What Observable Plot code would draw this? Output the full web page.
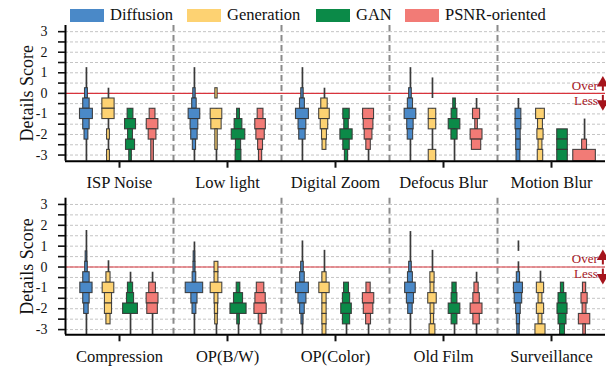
<!DOCTYPE html>
<html><head><meta charset="utf-8">
<script src="https://cdn.jsdelivr.net/npm/d3@7"></script>
<script src="https://cdn.jsdelivr.net/npm/@observablehq/plot@0.6"></script>
<style>
body{margin:0;background:#fff;}
#wrap{position:relative;width:606px;height:371px;overflow:hidden;background:#fff;}
.lg{position:absolute;top:8px;height:14px;display:flex;align-items:center;color:#111;white-space:nowrap;}
.sw{width:34px;height:13px;margin-right:6px;flex:none;}
#top{position:absolute;left:0;top:25px;}
#bot{position:absolute;left:0;top:195px;}
</style></head><body>
<div id="wrap"><div id="legend"></div><div id="top"></div><div id="bot"></div></div>
<script>
const methods = ["Diffusion", "Generation", "GAN", "PSNR-oriented"];
const methodColors = ["#4a89c8", "#fdd272", "#0b8a48", "#f27b76"];
const categoriesTop = ["ISP Noise", "Low light", "Digital Zoom", "Defocus Blur", "Motion Blur"];
const categoriesBottom = ["Compression", "OP(B/W)", "OP(Color)", "Old Film", "Surveillance"];
const yTickValues = [-3, -2.5, -2, -1.5, -1, -0.5, 0, 0.5, 1, 1.5, 2, 2.5, 3];

// letter-value boxes: [category, method, low, high, relative width (share)]
const boxesTop = [
  ["ISP Noise","Diffusion",-0.25,0.25,0.22],["ISP Noise","Diffusion",-0.75,-0.25,0.5],["ISP Noise","Diffusion",-1.25,-0.75,1.0],["ISP Noise","Diffusion",-1.75,-1.25,0.5],["ISP Noise","Diffusion",-2.25,-1.75,0.3],
  ["ISP Noise","Generation",-0.75,-0.25,0.95],["ISP Noise","Generation",-1.25,-0.75,0.95],["ISP Noise","Generation",-2.25,-1.75,0.22],["ISP Noise","Generation",-3.3,-2.75,0.22],
  ["ISP Noise","GAN",-1.25,-0.75,0.45],["ISP Noise","GAN",-1.75,-1.25,0.85],["ISP Noise","GAN",-2.25,-1.75,0.38],["ISP Noise","GAN",-2.75,-2.25,0.7],["ISP Noise","GAN",-3.3,-2.75,0.2],
  ["ISP Noise","PSNR-oriented",-1.25,-0.75,0.45],["ISP Noise","PSNR-oriented",-1.75,-1.25,0.9],["ISP Noise","PSNR-oriented",-2.25,-1.75,0.6],["ISP Noise","PSNR-oriented",-3.3,-2.25,0.2],
  ["Low light","Diffusion",-0.25,0.25,0.18],["Low light","Diffusion",-0.75,-0.25,0.35],["Low light","Diffusion",-1.25,-0.75,0.9],["Low light","Diffusion",-1.75,-1.25,0.6],["Low light","Diffusion",-2.25,-1.75,0.5],["Low light","Diffusion",-2.75,-2.25,0.25],
  ["Low light","Generation",-0.25,0.25,0.18],["Low light","Generation",-1.25,-0.75,0.9],["Low light","Generation",-1.75,-1.25,0.8],["Low light","Generation",-2.75,-1.75,0.18],
  ["Low light","GAN",-1.25,-0.75,0.22],["Low light","GAN",-1.75,-1.25,0.6],["Low light","GAN",-2.25,-1.75,1.05],["Low light","GAN",-2.75,-2.25,0.4],["Low light","GAN",-3.3,-2.75,0.45],
  ["Low light","PSNR-oriented",-1.25,-0.75,0.45],["Low light","PSNR-oriented",-1.75,-1.25,0.82],["Low light","PSNR-oriented",-2.25,-1.75,0.65],["Low light","PSNR-oriented",-2.75,-2.25,0.38],["Low light","PSNR-oriented",-3.3,-2.75,0.25],
  ["Digital Zoom","Diffusion",-0.25,0.25,0.18],["Digital Zoom","Diffusion",-0.75,-0.25,0.38],["Digital Zoom","Diffusion",-1.25,-0.75,1.0],["Digital Zoom","Diffusion",-1.75,-1.25,0.6],["Digital Zoom","Diffusion",-2.25,-1.75,0.5],
  ["Digital Zoom","Generation",-0.75,-0.25,0.5],["Digital Zoom","Generation",-1.25,-0.75,0.82],["Digital Zoom","Generation",-1.75,-1.25,0.58],["Digital Zoom","Generation",-2.25,-1.75,0.38],["Digital Zoom","Generation",-2.75,-2.25,0.3],
  ["Digital Zoom","GAN",-1.25,-0.75,0.5],["Digital Zoom","GAN",-1.75,-1.25,0.35],["Digital Zoom","GAN",-2.25,-1.75,0.95],["Digital Zoom","GAN",-2.75,-2.25,0.5],["Digital Zoom","GAN",-3.3,-2.75,0.25],
  ["Digital Zoom","PSNR-oriented",-1.25,-0.75,0.85],["Digital Zoom","PSNR-oriented",-1.75,-1.25,0.75],["Digital Zoom","PSNR-oriented",-2.25,-1.75,0.6],["Digital Zoom","PSNR-oriented",-2.75,-2.25,0.35],
  ["Defocus Blur","Diffusion",-0.25,0.25,0.2],["Defocus Blur","Diffusion",-0.75,-0.25,0.4],["Defocus Blur","Diffusion",-1.25,-0.75,0.9],["Defocus Blur","Diffusion",-1.75,-1.25,0.5],["Defocus Blur","Diffusion",-2.25,-1.75,0.42],
  ["Defocus Blur","Generation",-1.25,-0.75,0.58],["Defocus Blur","Generation",-1.75,-1.25,0.58],["Defocus Blur","Generation",-3.3,-2.75,0.58],
  ["Defocus Blur","GAN",-0.75,-0.25,0.2],["Defocus Blur","GAN",-1.25,-0.75,0.45],["Defocus Blur","GAN",-1.75,-1.25,0.9],["Defocus Blur","GAN",-2.25,-1.75,0.48],
  ["Defocus Blur","PSNR-oriented",-1.25,-0.75,0.55],["Defocus Blur","PSNR-oriented",-1.75,-1.25,0.2],["Defocus Blur","PSNR-oriented",-2.25,-1.75,0.92],["Defocus Blur","PSNR-oriented",-2.75,-2.25,0.72],
  ["Motion Blur","Diffusion",-1.25,-0.75,0.45],["Motion Blur","Diffusion",-1.75,-1.25,0.45],["Motion Blur","Diffusion",-2.25,-1.75,0.35],["Motion Blur","Diffusion",-2.75,-2.25,0.35],["Motion Blur","Diffusion",-3.3,-2.75,0.3],
  ["Motion Blur","Generation",-1.25,-0.75,0.68],["Motion Blur","Generation",-1.75,-1.25,0.38],["Motion Blur","Generation",-2.25,-1.75,0.48],["Motion Blur","Generation",-2.75,-2.25,0.3],["Motion Blur","Generation",-3.3,-2.75,0.42],
  ["Motion Blur","GAN",-2.25,-1.75,0.82],["Motion Blur","GAN",-2.75,-2.25,0.82],["Motion Blur","GAN",-3.3,-2.75,0.82],
  ["Motion Blur","PSNR-oriented",-2.75,-2.25,0.38],["Motion Blur","PSNR-oriented",-3.3,-2.75,1.75]
];
// extreme letter values drawn as thin lines: [category, method, low, high]
const whiskersTop = [
  ["ISP Noise","Diffusion",-3.3,1.25],["ISP Noise","Generation",-3.3,0.25],["ISP Noise","GAN",-3.3,-0.75],["ISP Noise","PSNR-oriented",-3.3,-0.75],
  ["Low light","Diffusion",-3.3,1.25],["Low light","Generation",-3.3,-0.75],["Low light","GAN",-3.3,-0.75],["Low light","PSNR-oriented",-3.3,-0.75],
  ["Digital Zoom","Diffusion",-3.3,1.25],["Digital Zoom","Generation",-2.75,0.25],["Digital Zoom","GAN",-3.3,-0.75],["Digital Zoom","PSNR-oriented",-3.3,-0.75],
  ["Defocus Blur","Diffusion",-3.3,1.25],["Defocus Blur","Generation",-0.25,0.75],["Defocus Blur","Generation",-3.3,-0.75],["Defocus Blur","GAN",-3.3,-0.25],["Defocus Blur","PSNR-oriented",-1.25,-0.25],
  ["Motion Blur","Diffusion",-3.3,-0.25],["Motion Blur","Generation",-3.3,-0.75],["Motion Blur","PSNR-oriented",-2.75,-1.25]
];
const boxesBottom = [
  ["Compression","Diffusion",0.25,0.75,0.12],["Compression","Diffusion",-0.25,0.25,0.2],["Compression","Diffusion",-0.75,-0.25,0.5],["Compression","Diffusion",-1.25,-0.75,0.95],["Compression","Diffusion",-1.75,-1.25,0.5],["Compression","Diffusion",-2.25,-1.75,0.35],
  ["Compression","Generation",-0.75,-0.25,0.32],["Compression","Generation",-1.25,-0.75,0.9],["Compression","Generation",-1.75,-1.25,0.55],["Compression","Generation",-2.25,-1.75,0.55],["Compression","Generation",-2.75,-2.25,0.32],
  ["Compression","GAN",-1.25,-0.75,0.4],["Compression","GAN",-1.75,-1.25,0.55],["Compression","GAN",-2.25,-1.75,1.15],
  ["Compression","PSNR-oriented",-1.25,-0.75,0.52],["Compression","PSNR-oriented",-1.75,-1.25,0.92],["Compression","PSNR-oriented",-2.25,-1.75,0.82],
  ["OP(B/W)","Diffusion",0.25,0.75,0.12],["OP(B/W)","Diffusion",-0.25,0.25,0.15],["OP(B/W)","Diffusion",-0.75,-0.25,0.28],["OP(B/W)","Diffusion",-1.25,-0.75,1.35],["OP(B/W)","Diffusion",-1.75,-1.25,0.48],["OP(B/W)","Diffusion",-2.25,-1.75,0.3],
  ["OP(B/W)","Generation",-0.25,0.25,0.3],["OP(B/W)","Generation",-0.75,-0.25,0.3],["OP(B/W)","Generation",-1.25,-0.75,0.9],["OP(B/W)","Generation",-1.75,-1.25,0.3],["OP(B/W)","Generation",-2.25,-1.75,0.25],["OP(B/W)","Generation",-2.75,-2.25,0.2],
  ["OP(B/W)","GAN",-1.25,-0.75,0.28],["OP(B/W)","GAN",-1.75,-1.25,0.7],["OP(B/W)","GAN",-2.25,-1.75,1.25],["OP(B/W)","GAN",-2.75,-2.25,0.2],
  ["OP(B/W)","PSNR-oriented",-1.25,-0.75,0.58],["OP(B/W)","PSNR-oriented",-1.75,-1.25,0.8],["OP(B/W)","PSNR-oriented",-2.25,-1.75,0.95],["OP(B/W)","PSNR-oriented",-2.75,-2.25,0.28],
  ["OP(Color)","Diffusion",-0.25,0.25,0.2],["OP(Color)","Diffusion",-0.75,-0.25,0.36],["OP(Color)","Diffusion",-1.25,-0.75,1.0],["OP(Color)","Diffusion",-1.75,-1.25,0.62],["OP(Color)","Diffusion",-2.25,-1.75,0.36],["OP(Color)","Diffusion",-2.75,-2.25,0.15],
  ["OP(Color)","Generation",-0.75,-0.25,0.33],["OP(Color)","Generation",-1.25,-0.75,0.8],["OP(Color)","Generation",-1.75,-1.25,0.33],["OP(Color)","Generation",-2.25,-1.75,0.33],["OP(Color)","Generation",-2.75,-2.25,0.33],["OP(Color)","Generation",-3.25,-2.75,0.3],
  ["OP(Color)","GAN",-1.25,-0.75,0.38],["OP(Color)","GAN",-1.75,-1.25,0.56],["OP(Color)","GAN",-2.25,-1.75,0.82],["OP(Color)","GAN",-2.75,-2.25,0.56],
  ["OP(Color)","PSNR-oriented",-1.25,-0.75,0.33],["OP(Color)","PSNR-oriented",-1.75,-1.25,0.88],["OP(Color)","PSNR-oriented",-2.25,-1.75,0.74],["OP(Color)","PSNR-oriented",-2.75,-2.25,0.38],
  ["Old Film","Diffusion",-0.25,0.25,0.2],["Old Film","Diffusion",-0.75,-0.25,0.38],["Old Film","Diffusion",-1.25,-0.75,0.82],["Old Film","Diffusion",-1.75,-1.25,0.55],["Old Film","Diffusion",-2.25,-1.75,0.35],
  ["Old Film","Generation",-0.75,-0.25,0.33],["Old Film","Generation",-1.25,-0.75,0.3],["Old Film","Generation",-1.75,-1.25,0.66],["Old Film","Generation",-2.25,-1.75,0.3],["Old Film","Generation",-2.75,-2.25,0.25],["Old Film","Generation",-3.25,-2.75,0.45],
  ["Old Film","GAN",-1.25,-0.75,0.33],["Old Film","GAN",-1.75,-1.25,0.45],["Old Film","GAN",-2.25,-1.75,0.9],["Old Film","GAN",-2.75,-2.25,0.45],
  ["Old Film","PSNR-oriented",-1.25,-0.75,0.33],["Old Film","PSNR-oriented",-1.75,-1.25,0.5],["Old Film","PSNR-oriented",-2.25,-1.75,0.92],["Old Film","PSNR-oriented",-2.75,-2.25,0.5],
  ["Surveillance","Diffusion",-0.75,-0.25,0.25],["Surveillance","Diffusion",-1.25,-0.75,0.7],["Surveillance","Diffusion",-1.75,-1.25,0.58],["Surveillance","Diffusion",-2.25,-1.75,0.36],["Surveillance","Diffusion",-2.75,-2.25,0.25],["Surveillance","Diffusion",-3.25,-2.75,0.18],
  ["Surveillance","Generation",-1.25,-0.75,0.56],["Surveillance","Generation",-1.75,-1.25,0.3],["Surveillance","Generation",-2.25,-1.75,0.56],["Surveillance","Generation",-2.75,-2.25,0.3],["Surveillance","Generation",-3.25,-2.75,0.78],
  ["Surveillance","GAN",-1.25,-0.75,0.25],["Surveillance","GAN",-1.75,-1.25,0.62],["Surveillance","GAN",-2.25,-1.75,0.78],["Surveillance","GAN",-2.75,-2.25,0.62],["Surveillance","GAN",-3.25,-2.75,0.38],
  ["Surveillance","PSNR-oriented",-1.25,-0.75,0.25],["Surveillance","PSNR-oriented",-1.75,-1.25,0.48],["Surveillance","PSNR-oriented",-2.25,-1.75,0.3],["Surveillance","PSNR-oriented",-2.75,-2.25,0.88],["Surveillance","PSNR-oriented",-3.25,-2.75,0.2]
];
const whiskersBottom = [
  ["Compression","Diffusion",-3.25,1.75],["Compression","Generation",-2.75,0.3],["Compression","GAN",-3.25,-0.25],["Compression","PSNR-oriented",-3.25,-0.25],
  ["OP(B/W)","Diffusion",-3.25,1.2],["OP(B/W)","Generation",-3.25,0.25],["OP(B/W)","GAN",-3.25,-0.75],["OP(B/W)","PSNR-oriented",-3.25,-0.75],
  ["OP(Color)","Diffusion",-3.25,1.25],["OP(Color)","Generation",-3.25,0.8],["OP(Color)","GAN",-3.25,-0.75],["OP(Color)","PSNR-oriented",-3.25,-0.75],
  ["Old Film","Diffusion",-3.25,1.7],["Old Film","Generation",-3.25,0.8],["Old Film","GAN",-3.25,-0.75],["Old Film","PSNR-oriented",-3.25,-0.25],
  ["Surveillance","Diffusion",0.75,1.25],["Surveillance","Diffusion",-3.25,0.25],["Surveillance","Generation",-3.25,-0.2],["Surveillance","GAN",-3.25,-0.75],["Surveillance","PSNR-oriented",-3.25,-0.75]
];

// pick an installed Times-like serif face
function hasFont(name) {
  const c = document.createElement("canvas").getContext("2d");
  const s = "abcdefghijklmnopqrstuvwxyz WMQ 0123456789";
  let diff = false;
  for (const base of ["monospace", "sans-serif"]) {
    c.font = "40px " + base; const w0 = c.measureText(s).width;
    c.font = `40px "${name}", ${base}`; const w1 = c.measureText(s).width;
    if (Math.abs(w1 - w0) > 0.5) diff = true;
  }
  return diff;
}
let FONT = "'Liberation Serif', serif", FS = 1;
if (hasFont("Liberation Serif")) { FONT = "'Liberation Serif', serif"; FS = 1; }
else if (hasFont("Times New Roman")) { FONT = "'Times New Roman', serif"; FS = 1; }
else if (hasFont("DejaVu Serif")) { FONT = "'DejaVu Serif', serif"; FS = 0.84; }
const annColor = "#a5141c";

// legend
const legendLefts = [70, 187, 316, 405];
const lg = document.getElementById("legend");
methods.forEach((m, i) => {
  const d = document.createElement("div");
  d.className = "lg"; d.style.left = legendLefts[i] + "px";
  d.style.fontFamily = FONT; d.style.fontSize = (16.5 * FS) + "px";
  const s = document.createElement("div"); s.className = "sw"; s.style.background = methodColors[i];
  const t = document.createElement("span"); t.textContent = m;
  d.appendChild(s); d.appendChild(t); lg.appendChild(d);
});

function panel(cats, boxes, whiskers, yDomain, height, mTop, mBottom, overY, lessY) {
  const K = 0.293;
  const X0 = -0.95, X1 = 3.95;
  const mi = m => methods.indexOf(m);
  const last = cats[cats.length - 1];
  const yMid = (yDomain[0] + yDomain[1]) / 2;
  return Plot.plot({
    width: 606, height, marginLeft: 64, marginRight: 0, marginTop: mTop, marginBottom: mBottom,
    style: {fontFamily: FONT, background: "transparent", color: "#111", overflow: "visible"},
    fx: {domain: cats, padding: 0},
    x: {domain: [X0, X1], axis: null},
    y: {domain: yDomain},
    color: {domain: methods, range: methodColors},
    marks: [
      Plot.gridY(yTickValues, {stroke: "#c4c4c4", strokeOpacity: 1, strokeWidth: 1, strokeDasharray: "3,2"}),
      Plot.ruleX(cats.slice(0, -1), {fx: d => d, x: () => X1, stroke: "#8a8a8a", strokeWidth: 2, strokeDasharray: "6,4"}),
      Plot.ruleY([0], {stroke: "#d8343c", strokeWidth: 1.2}),
      Plot.ruleX(whiskers, {fx: d => d[0], x: d => mi(d[1]), y1: d => d[2], y2: d => d[3], stroke: "#3a3a3a", strokeWidth: 1.7}),
      Plot.rect(boxes, {fx: d => d[0], x1: d => mi(d[1]) - d[4] * K, x2: d => mi(d[1]) + d[4] * K,
        y1: d => d[2], y2: d => d[3], fill: d => d[1], stroke: "#333", strokeWidth: 1.1, strokeOpacity: 0.9}),
      Plot.ruleY([yDomain[0]], {stroke: "#000", strokeWidth: 2}),
      Plot.ruleX([cats[0]], {fx: d => d, x: () => X0, stroke: "#000", strokeWidth: 2}),
      Plot.axisY({ticks: yTickValues, tickFormat: d => Number.isInteger(d) ? String(d) : "",
        tickSize: 7, tickPadding: 11, fontSize: 14 * FS, strokeWidth: 1.6, label: null}),
      Plot.axisFx({anchor: "bottom", tickSize: 7, tickPadding: 8, fontSize: 16.5 * FS, strokeWidth: 2, label: null}),
      Plot.text([cats[0]], {fx: d => d, x: () => X0 - 1.72, y: () => yMid, text: () => "Details Score",
        rotate: -90, textAnchor: "middle", lineAnchor: "middle", fontSize: 18 * FS, fill: "#111"}),
      Plot.text([last], {fx: d => d, x: () => 3.6, y: () => overY, text: () => "Over", textAnchor: "end", fontSize: 13 * FS, fill: annColor}),
      Plot.text([last], {fx: d => d, x: () => 3.6, y: () => lessY, text: () => "Less", textAnchor: "end", fontSize: 13 * FS, fill: annColor}),
      Plot.ruleX([last], {fx: d => d, x: () => 3.83, y1: () => 0.1, y2: () => 0.45, stroke: annColor, strokeWidth: 2}),
      Plot.ruleX([last], {fx: d => d, x: () => 3.83, y1: () => -0.1, y2: () => -0.45, stroke: annColor, strokeWidth: 2}),
      Plot.dot([last], {fx: d => d, x: () => 3.83, y: () => 0.5, symbol: "triangle", r: 4.5, fill: annColor}),
      Plot.dot([last], {fx: d => d, x: () => 3.83, y: () => -0.5, symbol: "triangle", r: 4.5, fill: annColor, rotate: 180})
    ]
  });
}

document.getElementById("top").appendChild(panel(categoriesTop, boxesTop, whiskersTop, [-3.3, 3.3], 170, 0, 34.3, 0.37, -0.34));
document.getElementById("bot").appendChild(panel(categoriesBottom, boxesBottom, whiskersBottom, [-3.25, 3.3], 176, 2.7, 36.7, 0.37, -0.31));
</script>
</body></html>
